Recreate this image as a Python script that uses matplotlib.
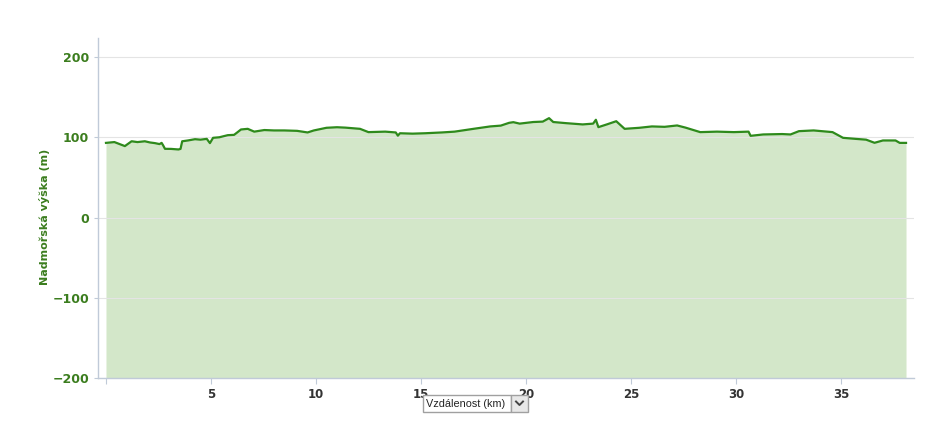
import numpy as np
import matplotlib
matplotlib.use("Agg")
import matplotlib.pyplot as plt
from matplotlib.patches import Rectangle
from matplotlib.lines import Line2D

# elevation profile (km, m)
distance_km = [0.0, 0.4, 0.9, 1.22, 1.5, 1.85, 2.1, 2.33, 2.55, 2.65, 2.72, 2.81, 3.1, 3.45,
               3.55, 3.63, 3.9, 4.24, 4.5, 4.8, 4.95, 5.1, 5.4, 5.8, 6.1, 6.25, 6.43, 6.75,
               7.06, 7.54, 8.0, 8.49, 9.1, 9.6, 9.9, 10.5, 11.0, 11.4, 12.1, 12.5, 13.3,
               13.8, 13.9, 14.0, 14.6, 15.2, 16.0, 16.6, 17.5, 18.3, 18.8, 19.2, 19.4,
               19.7, 20.35, 20.8, 21.1, 21.3, 21.9, 22.7, 23.2, 23.33, 23.45, 23.85,
               24.3, 24.7, 25.4, 26.0, 26.6, 27.2, 27.6, 28.3, 29.1, 29.9, 30.6, 30.7,
               31.3, 32.2, 32.6, 33.0, 33.7, 34.6, 35.1, 35.7, 36.2, 36.6, 37.0, 37.6,
               37.8, 38.1]
elevation_m = [93, 94, 89, 95, 94, 95, 93.5, 92.7, 91.5, 93, 90, 85.6, 85.5, 84.8,
               85.5, 95, 96, 97.6, 97, 98, 92.7, 99.3, 100, 102.6, 103, 106, 109.7, 110.5,
               107, 109, 108.5, 108.5, 108, 106, 108.5, 111.8, 112.5, 112, 110.5, 106.4, 107,
               106, 102, 105, 104.5, 105, 106, 107, 110.5, 113.5, 114.5, 118, 118.8,
               117, 119, 119.5, 123.8, 119, 117.6, 116, 117, 121.8, 112.6, 116,
               120, 110.5, 111.8, 113.5, 113, 114.7, 112, 106.4, 107, 106.4, 107, 101.8,
               103.5, 104, 103.5, 107.6, 108.5, 106.4, 99.3, 98, 97, 93.1, 96, 96,
               93, 93]

y_ticks = [-200, -100, 0, 100, 200]
x_ticks = [0, 5, 10, 15, 20, 25, 30, 35]
x_tick_labels = ["", "5", "10", "15", "20", "25", "30", "35"]

line_color = "#2e8a1c"
fill_color = "#d3e7c9"
axis_color = "#c0cad8"
green_text = "#3b7d1e"

W, H = 948, 436
fig = plt.figure(figsize=(W / 100, H / 100), dpi=100)
ax = fig.add_axes([98 / W, (H - 378) / H, 816 / W, 340 / H])

ax.fill_between(distance_km, elevation_m, -200, color=fill_color, linewidth=0)
ax.plot(distance_km, elevation_m, color=line_color, linewidth=1.6)

ax.set_xlim(-0.38, 38.48)
ax.set_ylim(-200, 223.7)

ax.set_yticks(y_ticks)
ax.set_xticks(x_ticks)
ax.set_xticklabels(x_tick_labels)
ax.grid(axis="y", color="#e4e4e4", linewidth=0.8)
for gl in ax.get_ygridlines():
    gl.set_zorder(0.5)

for s in ["top", "right"]:
    ax.spines[s].set_visible(False)
for s in ["left", "bottom"]:
    ax.spines[s].set_color(axis_color)
    ax.spines[s].set_linewidth(1)

ax.tick_params(axis="y", colors=axis_color, length=3, pad=3.5, labelcolor=green_text,
               labelsize=9)
ax.tick_params(axis="x", colors=axis_color, length=4, pad=3, labelcolor="#333333",
               labelsize=8.5)
for lab in ax.get_xticklabels() + ax.get_yticklabels():
    lab.set_fontweight("bold")

fig.text(45 / W, 1 - 217 / H, "Nadmořská výška (m)", rotation=90, ha="center",
         va="center", color=green_text, fontsize=8, fontweight="bold")

# dropdown "Vzdálenost (km)"
fig.patches.append(Rectangle((423 / W, 1 - 412 / H), 88 / W, 17 / H,
                             transform=fig.transFigure, facecolor="white",
                             edgecolor="#a0a0a0", linewidth=1))
fig.patches.append(Rectangle((511 / W, 1 - 412 / H), 17 / W, 17 / H,
                             transform=fig.transFigure, facecolor="#e8e8e8",
                             edgecolor="#a0a0a0", linewidth=1))
fig.text(426 / W, 1 - 403.5 / H, "Vzdálenost (km)", ha="left", va="center",
         fontsize=7.8, color="#222222", family="Liberation Sans")
fig.lines.append(Line2D([516 / W, 519.5 / W, 523 / W],
                        [1 - 401.5 / H, 1 - 405 / H, 1 - 401.5 / H],
                        transform=fig.transFigure, color="#444444", linewidth=1.4))

fig.savefig("out.png", dpi=100)
